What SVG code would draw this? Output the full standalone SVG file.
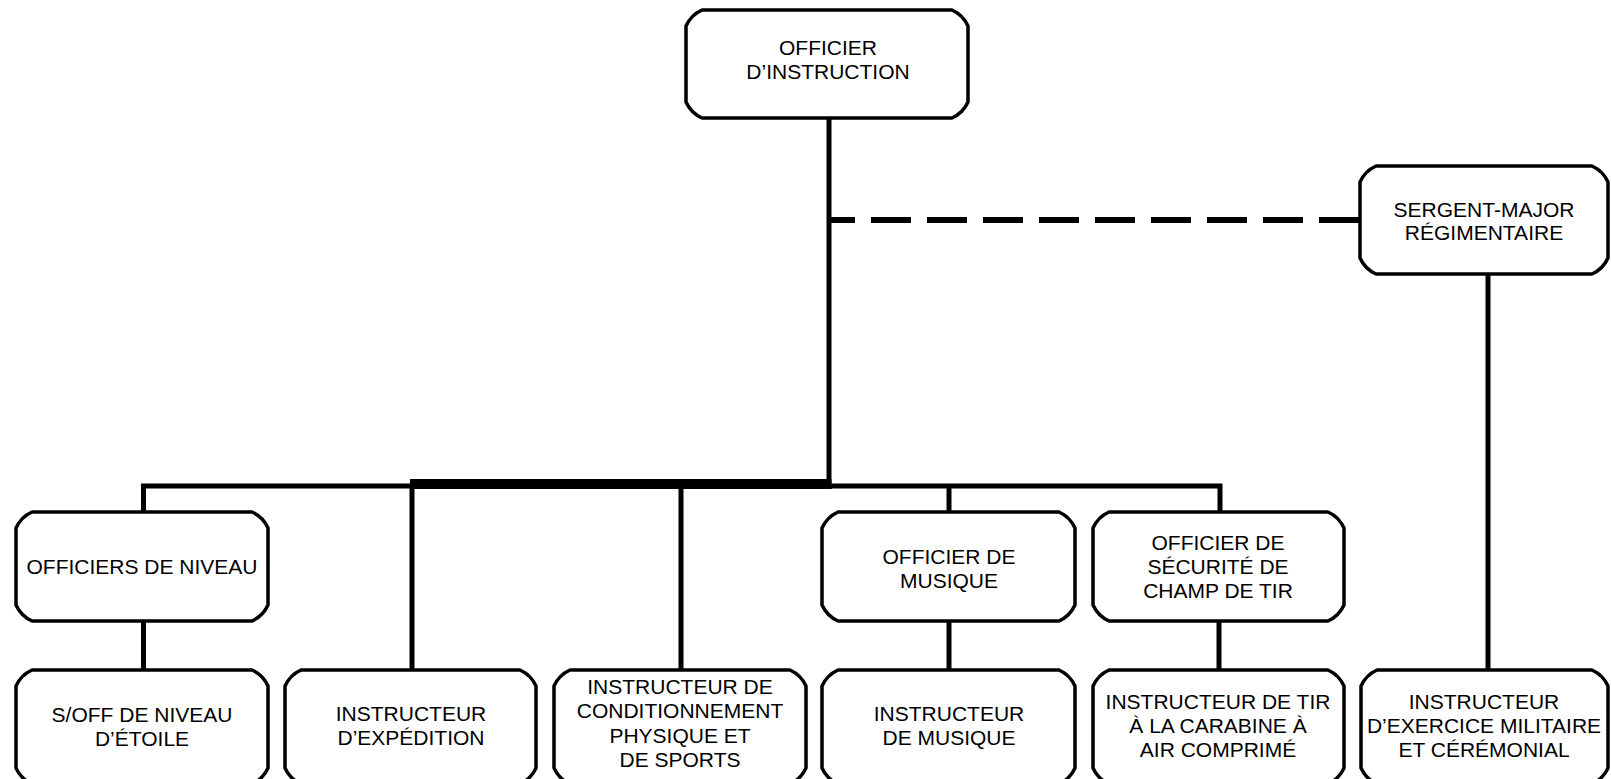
<svg xmlns="http://www.w3.org/2000/svg" width="1611" height="779" viewBox="0 0 1611 779">
<style>
.box{fill:#fff;stroke:#000;stroke-width:3.5;stroke-linejoin:round}
.ln{fill:none;stroke:#000;stroke-width:5;stroke-linejoin:miter;stroke-linecap:butt}
.thick{fill:none;stroke:#000;stroke-width:10}
.dash{fill:none;stroke:#000;stroke-width:6;stroke-dasharray:40 16;stroke-dashoffset:16}
text{font-family:"Liberation Sans",Arial,sans-serif;font-size:21px;fill:#000;text-anchor:middle}
</style>
<rect width="1611" height="779" fill="#fff"/>
<g id="connectors">
<line class="ln" x1="829" y1="118" x2="829" y2="489"/>
<line class="thick" x1="410" y1="484" x2="831.5" y2="484"/>
<path class="ln" d="M143.5,512 V486 H1220 V512"/>
<line class="ln" x1="412" y1="486" x2="412" y2="670"/>
<line class="ln" x1="681" y1="486" x2="681" y2="670"/>
<line class="ln" x1="949" y1="486" x2="949" y2="512"/>
<line class="ln" x1="143.5" y1="621" x2="143.5" y2="670"/>
<line class="ln" x1="949" y1="621" x2="949" y2="670"/>
<line class="ln" x1="1219" y1="621" x2="1219" y2="670"/>
<line class="ln" x1="1488" y1="274" x2="1488" y2="670"/>
<line class="dash" x1="831" y1="220" x2="1360" y2="220"/>
</g>
<g id="n-officier-instruction">
<path class="box" d="M702,10 H952 Q963,15 968,26 V102 Q963,113 952,118 H702 Q691,113 686,102 V26 Q691,15 702,10 Z"/>
<text x="828" y="55">OFFICIER</text>
<text x="828" y="79">D’INSTRUCTION</text>
</g>
<g id="n-sergent-major">
<path class="box" d="M1376,166 H1592 Q1603,171 1608,182 V258 Q1603,269 1592,274 H1376 Q1365,269 1360,258 V182 Q1365,171 1376,166 Z"/>
<text x="1484" y="217">SERGENT-MAJOR</text>
<text x="1484" y="240">RÉGIMENTAIRE</text>
</g>
<g id="n-officiers-niveau">
<path class="box" d="M32,512 H252 Q263,517 268,528 V605 Q263,616 252,621 H32 Q21,616 16,605 V528 Q21,517 32,512 Z"/>
<text x="142" y="574">OFFICIERS DE NIVEAU</text>
</g>
<g id="n-officier-musique">
<path class="box" d="M838,512 H1059 Q1070,517 1075,528 V605 Q1070,616 1059,621 H838 Q827,616 822,605 V528 Q827,517 838,512 Z"/>
<text x="949" y="564">OFFICIER DE</text>
<text x="949" y="588">MUSIQUE</text>
</g>
<g id="n-officier-securite">
<path class="box" d="M1109,512 H1328 Q1339,517 1344,528 V605 Q1339,616 1328,621 H1109 Q1098,616 1093,605 V528 Q1098,517 1109,512 Z"/>
<text x="1218" y="550">OFFICIER DE</text>
<text x="1218" y="574">SÉCURITÉ DE</text>
<text x="1218" y="598">CHAMP DE TIR</text>
</g>
<g id="n-soff-niveau">
<path class="box" d="M32,670 H252 Q263,675 268,686 V768 Q263,779 252,784 H32 Q21,779 16,768 V686 Q21,675 32,670 Z"/>
<text x="142" y="722">S/OFF DE NIVEAU</text>
<text x="142" y="746">D’ÉTOILE</text>
</g>
<g id="n-instructeur-expedition">
<path class="box" d="M301,670 H520 Q531,675 536,686 V768 Q531,779 520,784 H301 Q290,779 285,768 V686 Q290,675 301,670 Z"/>
<text x="411" y="721">INSTRUCTEUR</text>
<text x="411" y="745">D’EXPÉDITION</text>
</g>
<g id="n-instructeur-conditionnement">
<path class="box" d="M570,670 H790 Q801,675 806,686 V768 Q801,779 790,784 H570 Q559,779 554,768 V686 Q559,675 570,670 Z"/>
<text x="680" y="694">INSTRUCTEUR DE</text>
<text x="680" y="718">CONDITIONNEMENT</text>
<text x="680" y="743">PHYSIQUE ET</text>
<text x="680" y="767">DE SPORTS</text>
</g>
<g id="n-instructeur-musique">
<path class="box" d="M838,670 H1059 Q1070,675 1075,686 V768 Q1070,779 1059,784 H838 Q827,779 822,768 V686 Q827,675 838,670 Z"/>
<text x="949" y="721">INSTRUCTEUR</text>
<text x="949" y="745">DE MUSIQUE</text>
</g>
<g id="n-instructeur-tir">
<path class="box" d="M1109,670 H1328 Q1339,675 1344,686 V768 Q1339,779 1328,784 H1109 Q1098,779 1093,768 V686 Q1098,675 1109,670 Z"/>
<text x="1218" y="709">INSTRUCTEUR DE TIR</text>
<text x="1218" y="733">À LA CARABINE À</text>
<text x="1218" y="757">AIR COMPRIMÉ</text>
</g>
<g id="n-instructeur-exercice">
<path class="box" d="M1377,670 H1592 Q1603,675 1608,686 V768 Q1603,779 1592,784 H1377 Q1366,779 1361,768 V686 Q1366,675 1377,670 Z"/>
<text x="1484" y="709">INSTRUCTEUR</text>
<text x="1484" y="733">D’EXERCICE MILITAIRE</text>
<text x="1484" y="757">ET CÉRÉMONIAL</text>
</g>
</svg>
